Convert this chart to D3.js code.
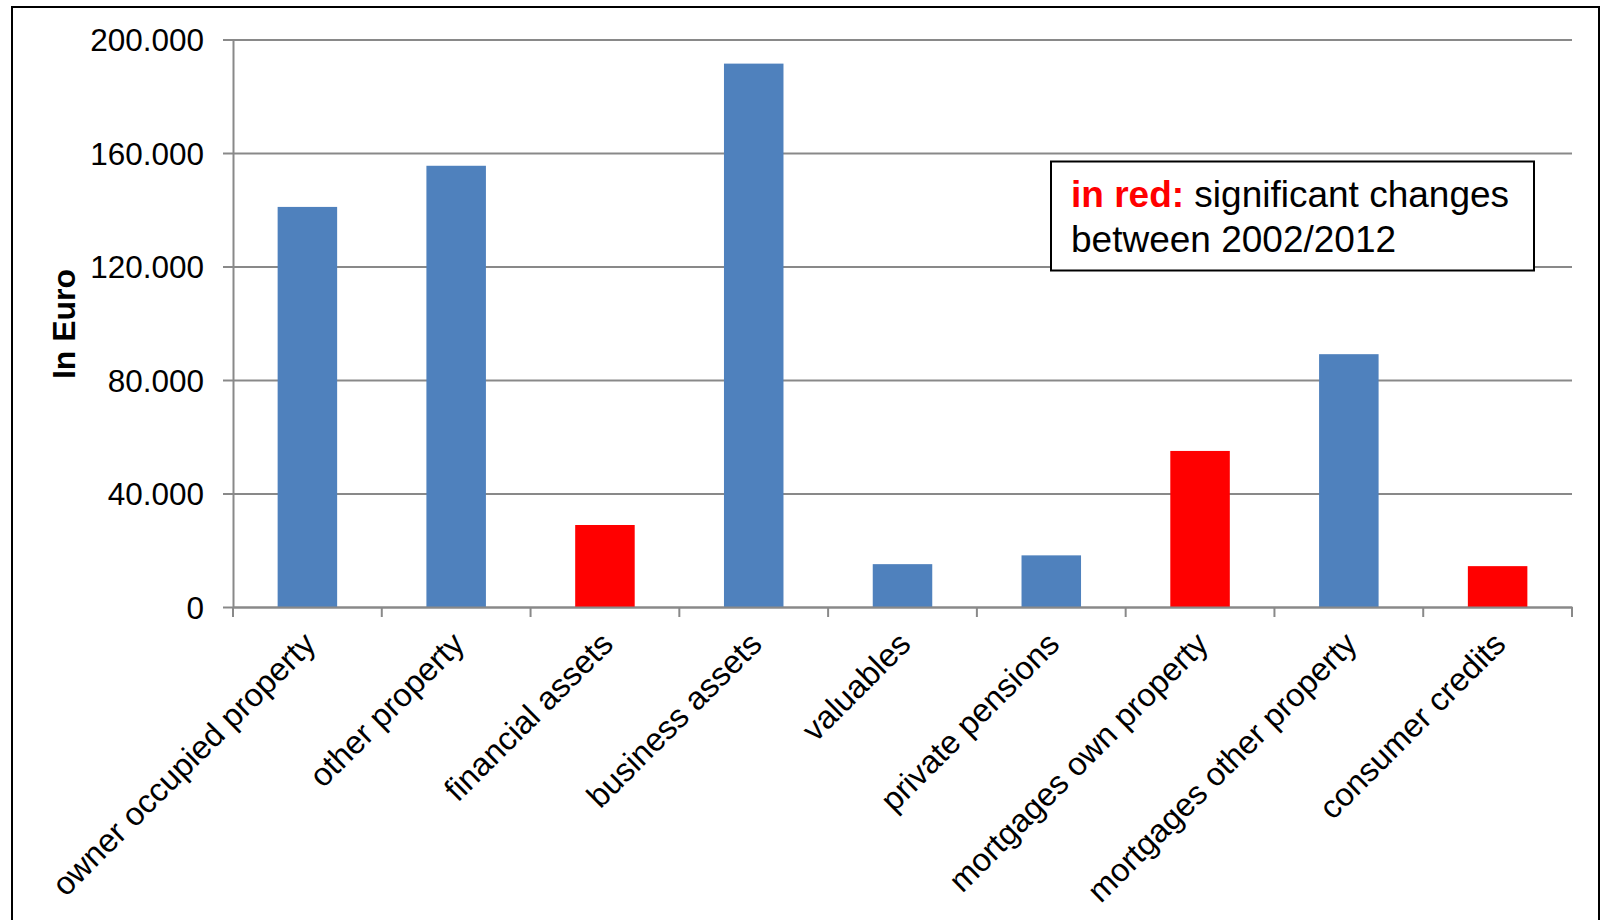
<!DOCTYPE html>
<html>
<head>
<meta charset="utf-8">
<script src="https://cdn.jsdelivr.net/npm/d3@7"></script>
<style>
  html, body { margin: 0; padding: 0; background: #fff; }
  svg { display: block; font-family: "Liberation Sans", Arial, Helvetica, sans-serif; }
</style>
</head>
<body>
<svg id="chart" width="1602" height="920"></svg>
<script>
// Mean values per household component, in Euro
const categories = [
  "owner occupied property",
  "other property",
  "financial assets",
  "business assets",
  "valuables",
  "private pensions",
  "mortgages own property",
  "mortgages other property",
  "consumer credits"
];
const values = [141000, 155500, 28900, 191500, 15100, 18200, 55000, 89100, 14400];
// true = significant change between 2002 and 2012
const significant = [false, false, true, false, false, false, true, false, true];
const yTicks = [0, 40000, 80000, 120000, 160000, 200000];

const svg = d3.select("#chart");
const plot = { left: 233, right: 1572, top: 39.5, bottom: 607 };

const gridColor = "#898989";
const blue = "#4F81BD";
const red = "#FF0000";

// German number format: 200.000
const de = d3.formatLocale({ decimal: ",", thousands: ".", grouping: [3], currency: ["", " €"] });
const fmt = de.format(",d");

const x = d3.scaleBand()
  .domain(categories)
  .range([plot.left, plot.right])
  .paddingInner(0.6)
  .paddingOuter(0.3);

const y = d3.scaleLinear()
  .domain([0, 200000])
  .range([plot.bottom, plot.top]);

// outer frame
svg.append("rect")
  .attr("x", 12).attr("y", 7)
  .attr("width", 1587).attr("height", 940)
  .attr("fill", "#fff")
  .attr("stroke", "#000")
  .attr("stroke-width", 2);

// horizontal gridlines (extending left as tick marks)
const grid = svg.append("g")
  .attr("transform", `translate(${plot.left},0)`)
  .call(d3.axisLeft(y).tickValues(yTicks).tickSize(-(plot.right - plot.left)).tickFormat(""));
grid.select(".domain").remove();
grid.selectAll(".tick line")
  .attr("x1", -10)
  .attr("stroke", gridColor)
  .attr("stroke-width", 2);

// y axis line and labels
const yAxis = svg.append("g")
  .attr("transform", `translate(${plot.left},0)`)
  .call(d3.axisLeft(y).tickValues(yTicks).tickSize(0).tickPadding(29).tickFormat(fmt));
yAxis.select(".domain")
  .attr("stroke", gridColor)
  .attr("stroke-width", 2);
yAxis.selectAll(".tick text")
  .attr("font-size", 31.5)
  .attr("fill", "#000")
  .attr("dy", "0.36em");

// bars
svg.append("g")
  .selectAll("rect")
  .data(categories)
  .join("rect")
  .attr("x", d => x(d))
  .attr("width", x.bandwidth())
  .attr("y", (d, i) => y(values[i]))
  .attr("height", (d, i) => y(0) - y(values[i]))
  .attr("fill", (d, i) => significant[i] ? red : blue);

// x axis: baseline, category-boundary ticks, rotated labels
const step = x.step();
const firstEdge = x(categories[0]) - x.paddingOuter() * step;
const boundaries = d3.range(categories.length + 1).map(i => firstEdge + i * step);

const xAxis = svg.append("g")
  .attr("transform", `translate(0,${plot.bottom})`)
  .call(d3.axisBottom(x).tickSize(0).tickPadding(0));
xAxis.select(".domain")
  .attr("stroke", gridColor)
  .attr("stroke-width", 2);
xAxis.selectAll(".tick text")
  .attr("font-size", 32.5)
  .attr("fill", "#000")
  .attr("text-anchor", "end")
  .attr("x", 0).attr("y", 0).attr("dy", 0)
  .attr("transform", "translate(10,39) rotate(-45)");

svg.append("g")
  .selectAll("line")
  .data(boundaries)
  .join("line")
  .attr("x1", d => d).attr("x2", d => d)
  .attr("y1", plot.bottom).attr("y2", plot.bottom + 10)
  .attr("stroke", gridColor)
  .attr("stroke-width", 2);

// y axis title
svg.append("text")
  .attr("transform", "translate(75,324) rotate(-90)")
  .attr("text-anchor", "middle")
  .attr("font-size", 32)
  .attr("font-weight", "bold")
  .attr("fill", "#000")
  .text("In Euro");

// note box
const note = svg.append("g");
note.append("rect")
  .attr("x", 1051).attr("y", 161.5)
  .attr("width", 483).attr("height", 109)
  .attr("fill", "#fff")
  .attr("stroke", "#000")
  .attr("stroke-width", 2);
const line1 = note.append("text")
  .attr("x", 1071).attr("y", 206.5)
  .attr("font-size", 37)
  .attr("fill", "#000");
line1.append("tspan").attr("fill", red).attr("font-weight", "bold").text("in red:");
line1.append("tspan").text(" significant changes");
note.append("text")
  .attr("x", 1071).attr("y", 251.5)
  .attr("font-size", 37)
  .attr("fill", "#000")
  .text("between 2002/2012");
</script>
</body>
</html>
